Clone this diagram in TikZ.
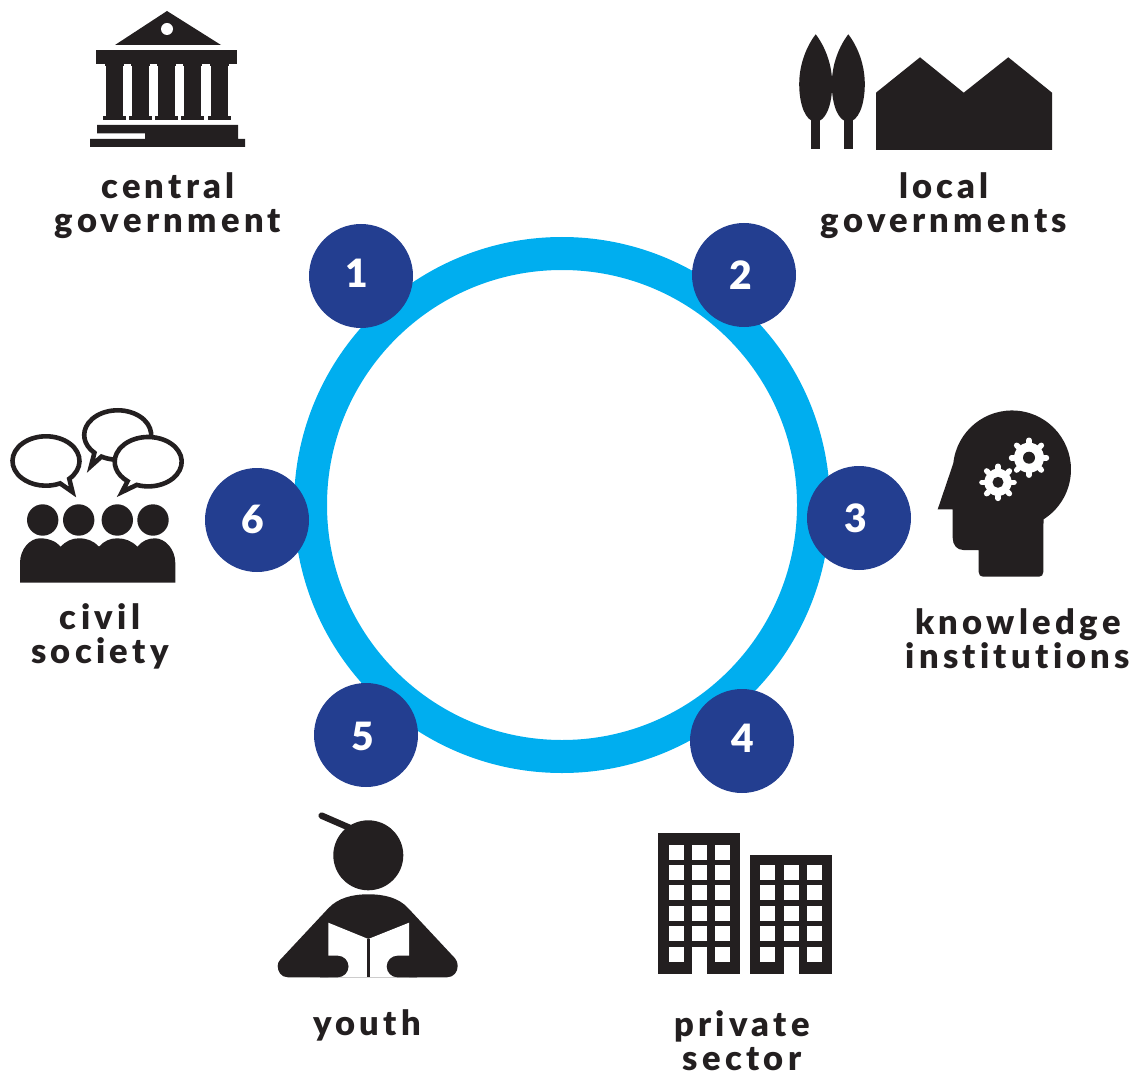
\documentclass[tikz,border=0pt]{standalone}
\usepackage{fontspec}
\setmainfont{Lato}[BoldFont={Lato Black}]
\definecolor{iconblack}{HTML}{231F20}
\definecolor{ringblue}{HTML}{00AEEF}
\definecolor{dotblue}{HTML}{233E90}

\begin{document}
\begin{tikzpicture}[x=1pt, y=-1pt,
    dotnode/.style={circle, fill=dotblue, minimum size=104pt, inner sep=0pt},
    numnode/.style={text=white, inner sep=0pt, font=\fontsize{39}{39}\selectfont\bfseries},
    actor/.style={align=center, inner sep=0pt, text=iconblack,
      font=\fontsize{34.5}{34}\selectfont\addfontfeature{LetterSpace=12.5,Ligatures=NoCommon}\bfseries},
    icon/.style={fill=iconblack, draw=none},
    bubble/.style={fill=white, draw=iconblack, line width=4.6pt, miter limit=12}]

      \useasboundingbox (0,0) rectangle (1135,1075);

      %% ring
      \draw[ringblue, line width=33pt] (562,505) circle[radius=251.5pt];

      %% numbered dots
      \node[dotnode] (dot1) at (361,276) {};
      \node[dotnode] (dot2) at (744,275) {};
      \node[dotnode] (dot3) at (859,518) {};
      \node[dotnode] (dot4) at (742,741) {};
      \node[dotnode] (dot5) at (366,735) {};
      \node[dotnode] (dot6) at (257,520) {};
      \node[numnode] (num1) at (357,273) {1};
      \node[numnode] (num2) at (741,275) {2};
      \node[numnode] (num3) at (856,518) {3};
      \node[numnode] (num4) at (743,738) {4};
      \node[numnode] (num5) at (363,736) {5};
      \node[numnode] (num6) at (253,519) {6};

      %% labels
      \node[actor] (central) at (168,205.5) {central\\government};
      \node[actor] (local)   at (944,205.5) {local\\governments};
      \node[actor] (knowledge) at (1018,638.5) {knowledge\\institutions};
      \node[actor] (civil)   at (100,636.5) {civil\\society};
      \node[actor] (youth)   at (367,1025) {youth};
      \node[actor] (private) at (742,1041) {private\\sector};

      %% central government
      \fill[icon] (167,11) -- (221,45) -- (115,45) -- cycle;
      \fill[white] (167,29) circle[radius=6pt];
      \fill[icon] (96,50) rectangle (237,64);
      \foreach \cx in {106,132,158,184,210.7}
      {
        \fill[icon] (\cx-1,64) rectangle ++(19.4,2);
        \fill[icon] (\cx,64) rectangle ++(17.4,52);
        \fill[icon] (\cx-3,116) rectangle ++(23.4,4);
      }
      \fill[icon] (97,125) -- (238,125) -- (238,139) -- (245,139) -- (245,147)
        -- (90,147) -- (90,139) -- (145,139) -- (145,133.3) -- (97,133.3) -- cycle;

      %% local governments
      \foreach \tx in {815.7,848.3}
      {
        \fill[icon] (\tx,34.3) .. controls (\tx+9,46) and (\tx+16.5,64) .. (\tx+16.5,84)
          .. controls (\tx+16.5,105) and (\tx+10,121.7) .. (\tx,121.7)
          .. controls (\tx-10,121.7) and (\tx-16.5,105) .. (\tx-16.5,84)
          .. controls (\tx-16.5,64) and (\tx-9,46) .. (\tx,34.3) -- cycle;
        \fill[icon] (\tx-4.7,115) rectangle ++(9.4,34);
      }
      \fill[icon] (876,92.7) -- (920,57.3) -- (963.7,92.7) -- (1008.3,57.3)
        -- (1052,92.7) -- (1052,150) -- (876,150) -- cycle;

      %% knowledge institutions
      \fill[icon] (937.7,509.3) -- (953.3,463.3)
        arc[start angle=174, end angle=-57.7, radius=59pt]
        -- (1043.3,572) .. controls (1043.3,575) and (1041.5,576.7) .. (1039,576.7)
        -- (983,576.7) .. controls (980.5,576.7) and (978.7,575) .. (978.7,572)
        -- (978.7,550) -- (963.3,550) .. controls (957,550) and (952.7,545) .. (952.7,538)
        -- (952.7,509.3) -- cycle;
      \foreach \gx/\gy/\gbody/\ghole in {1029/457.7/15/6, 998/482.3/13.6/5.5}
      {
        \fill[white] (\gx,\gy) circle[radius=\gbody*1pt];
        \foreach \a in {0,45,...,315}
          \draw[white, line width=5.6pt, line cap=round] (\gx,\gy) ++(\a:\gbody*1pt) -- ++(\a:2.4pt);
        \fill[icon] (\gx,\gy) circle[radius=\ghole*1pt];
      }

      %% private sector
      \fill[icon] (658,833) rectangle (740,973.7);
      \fill[icon] (750,855) rectangle (832,973.7);
      \foreach \wy in {845,865,885,906,926,947}
        \foreach \wx in {669,692,715}
          \fill[white] (\wx,\wy) rectangle ++(15,15);
      \foreach \wy in {865,885,906,926,947}
        \foreach \wx in {760,784,807}
          \fill[white] (\wx,\wy) rectangle ++(15,15);
      \fill[white] (692,955) rectangle (707,973.7);
      \fill[white] (784,955) rectangle (799,973.7);

      %% youth
      \fill[icon] (368.3,855.3) circle[radius=35pt];
      \draw[iconblack, line width=6.5pt, line cap=round] (321.7,815.7) -- (350,828);
      \fill[icon] (288,977.3) .. controls (281,977.3) and (277.7,971.5) .. (277.7,966)
        .. controls (277.7,963.5) and (278.5,961.5) .. (280,960)
        -- (328.3,908.3) .. controls (338,898) and (352,894.3) .. (368.3,894.3)
        .. controls (385,894.3) and (399,898) .. (408.3,908.3)
        -- (455,958.3) .. controls (456.8,960.5) and (457.7,963) .. (457.7,966)
        .. controls (457.7,971.5) and (454,977.3) .. (447,977.3) -- cycle;
      \fill[white] (328.3,922.7) -- (368.3,939) -- (409,922.7) -- (409,955.7)
        -- (409,977.3) -- (328.3,977.3) -- cycle;
      \fill[icon] (366.7,939) rectangle (370.3,977.3);
      \fill[icon] (320,955.7) -- (337.7,955.7) arc[start angle=90, end angle=-90, radius=10.8pt]
        -- (320,977.3) -- cycle;
      \fill[icon] (417,955.7) -- (397.5,955.7) arc[start angle=90, end angle=270, radius=10.8pt]
        -- (417,977.3) -- cycle;

      %% civil society
      \foreach \hx in {42.7,78.7,117.3,153}
        \fill[icon] (\hx,520) circle[radius=15.7pt];
      \fill[icon] (20,582.7) -- (20,563) .. controls (20,549) and (30,538.3) .. (40,538.3)
        .. controls (48,538.3) and (56,541) .. (60.7,546.7)
        .. controls (66,541) and (72,538.3) .. (79,538.3)
        .. controls (87,538.3) and (94,541) .. (99,546.7)
        .. controls (104,541) and (110,538.3) .. (117.3,538.3)
        .. controls (125,538.3) and (132,541) .. (137.3,546.7)
        .. controls (142,541) and (148,538.3) .. (155,538.3)
        .. controls (165,538.3) and (175.3,549) .. (175.3,563) -- (175.3,582.7) -- cycle;
      \draw[bubble] (117.7,435) ++(241:33.5pt and 24.7pt)
        arc[start angle=241, end angle=586, x radius=33.5pt, y radius=24.7pt]
        -- (91,466) -- cycle;
      \draw[bubble] (148.2,461.7) ++(250:33.5pt and 24.7pt)
        arc[start angle=250, end angle=592, x radius=33.5pt, y radius=24.7pt]
        -- (122,492) -- cycle;
      \draw[bubble] (46,461) ++(-46:33.5pt and 24.7pt)
        arc[start angle=-46, end angle=295, x radius=33.5pt, y radius=24.7pt]
        -- (72.5,492) -- cycle;

\end{tikzpicture}
\end{document}
